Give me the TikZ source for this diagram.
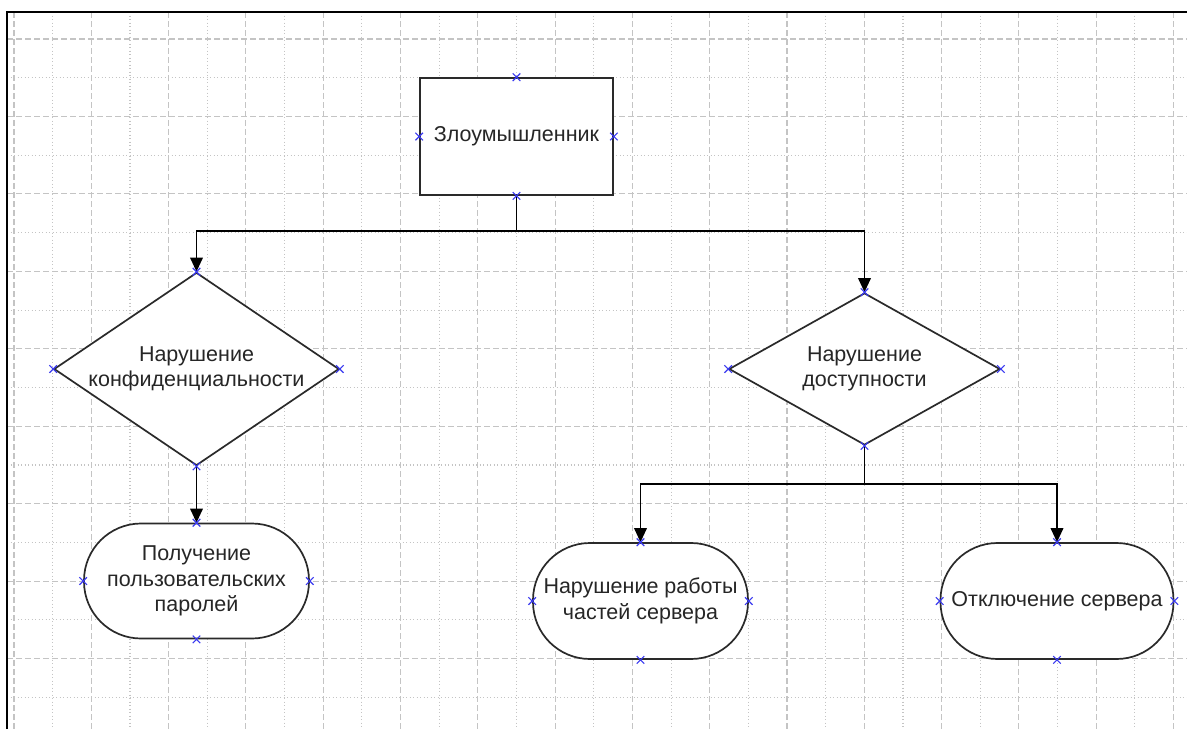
\documentclass[tikz,border=0pt]{standalone}
\usepackage{fontspec}
\setmainfont{Liberation Sans}
\usetikzlibrary{shapes.geometric,arrows.meta}

\definecolor{gridgray}{HTML}{C4C4C4}
\definecolor{outline}{HTML}{2A2A2A}
\definecolor{portblue}{HTML}{3A3AF0}
\definecolor{inktext}{HTML}{262626}

\tikzset{
  majorgrid/.style={gridgray, line width=1.1pt, dash pattern=on 6pt off 3pt},
  minorgrid/.style={gridgray, line width=1.1pt, dash pattern=on 1.3pt off 2.2pt},
  frameline/.style={black, line width=2.2pt},
  boxshape/.style={draw=outline, fill=white, line width=1.7pt, inner sep=0pt},
  rectbox/.style={boxshape, rectangle, minimum width=193pt, minimum height=117pt},
  decision/.style={boxshape, diamond, inner sep=0pt},
  terminal/.style={boxshape, rectangle, rounded corners=57pt, minimum height=116pt, align=center},
  label text/.style={font=\fontsize{21.5}{25.5}\selectfont, text=inktext, align=center},
  link/.style={black, line width=1.9pt},
  arrowlink/.style={link, -{Triangle[length=14pt,width=12.5pt]}},
  port/.style={portblue, line width=1.2pt}
}

\begin{document}
\begin{tikzpicture}[x=1pt, y=-1pt]
  \useasboundingbox (0,0) rectangle (1187,729);
  \fill[white] (0,0) rectangle (1187,729);

  % drawing-page grid
  \foreach \k in {0,...,15} {
    \draw[majorgrid] ({14+77.3*\k},12) -- ({14+77.3*\k},729);
  }
  \foreach \k in {0,...,14} {
    \draw[minorgrid] ({52.65+77.3*\k},12) -- ({52.65+77.3*\k},729);
  }
  \foreach \k in {0,...,8} {
    \draw[majorgrid] (7,{39+77.45*\k}) -- (1187,{39+77.45*\k});
    \draw[minorgrid] (7,{77.7+77.45*\k}) -- (1187,{77.7+77.45*\k});
  }

  % page edges
  \draw[frameline] (7,729) -- (7,12) -- (1187,12);

  % shapes
  \node[rectbox, label text] (r) at (516.5,136.5) {Злоумышленник};

  \node[decision, minimum width=285pt, minimum height=193pt] (d1) at (196.5,369) {};
  \node[label text] (d1t) at (196.5,369) {Нарушение\\конфиденциальности};

  \node[decision, minimum width=271pt, minimum height=152pt] (d2) at (864.5,369) {};
  \node[label text] (d2t) at (864.5,369) {Нарушение\\доступности};

  \node[terminal, label text, minimum width=225pt, minimum height=115pt] (s1) at (196.5,581) {Получение\\пользовательских\\паролей};
  \node[terminal, label text, minimum width=215pt] (s2) at (640.5,601) {Нарушение работы\\частей сервера};
  \node[terminal, label text, minimum width=233pt] (s3) at (1057,601) {Отключение сервера};

  % connectors
  \coordinate (j1) at (516.5,231);
  \coordinate (j2) at (864.5,484);
  \draw[link] (r.south) -- (j1);
  \draw[arrowlink] (j1) -| (d1.north);
  \draw[arrowlink] (j1) -| (d2.north);
  \draw[arrowlink] (d1.south) -- (s1.north);
  \draw[link] (d2.south) -- (j2);
  \draw[arrowlink] (j2) -| (s2.north);
  \draw[arrowlink] (j2) -| (s3.north);

  % connection points
  \foreach \n in {r,d1,d2,s1,s2,s3} {
    \foreach \a in {north,south,east,west} {
      \draw[port] (\n.\a) +(-3.8,-3.8) -- +(3.8,3.8) +(-3.8,3.8) -- +(3.8,-3.8);
    }
  }
\end{tikzpicture}
\end{document}
